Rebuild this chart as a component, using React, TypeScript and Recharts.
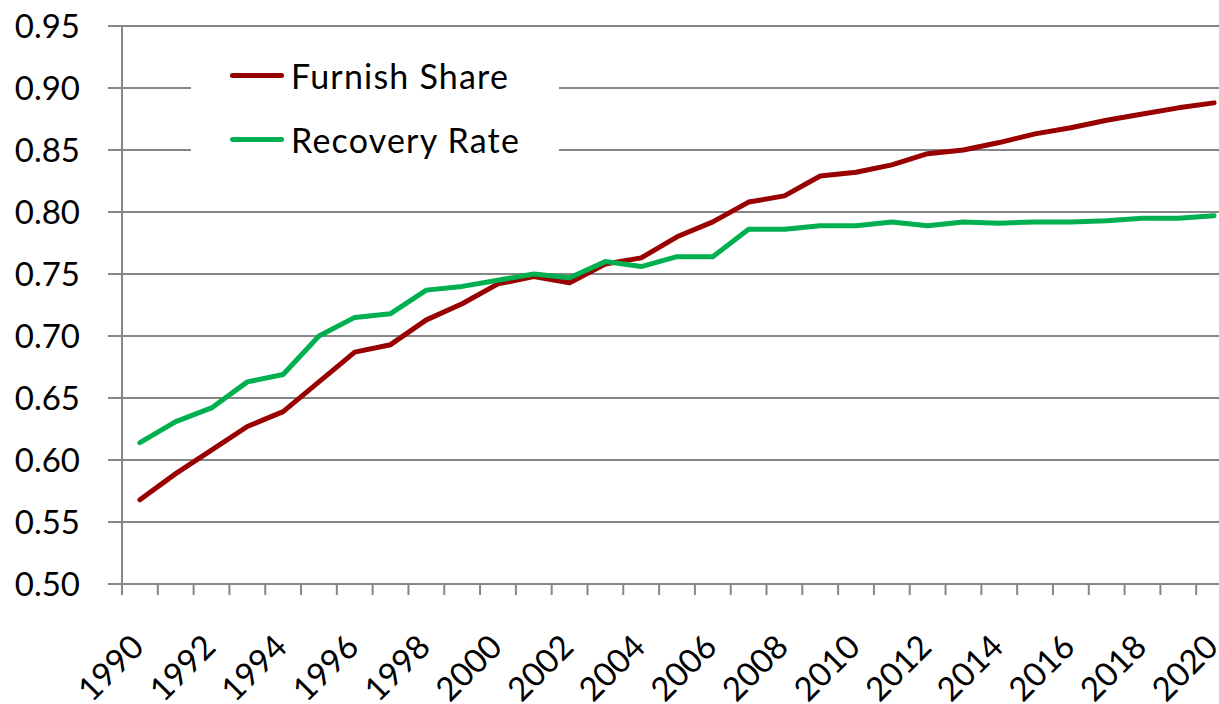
import { CartesianGrid, Legend, Line, LineChart, XAxis, YAxis } from 'recharts'

const years = [
  '1990', '1991', '1992', '1993', '1994', '1995', '1996', '1997', '1998', '1999',
  '2000', '2001', '2002', '2003', '2004', '2005', '2006', '2007', '2008', '2009',
  '2010', '2011', '2012', '2013', '2014', '2015', '2016', '2017', '2018', '2019', '2020',
]

const furnishShare = [
  0.568, 0.589, 0.608, 0.627, 0.639, 0.663, 0.687, 0.693, 0.713, 0.726,
  0.742, 0.748, 0.743, 0.758, 0.763, 0.78, 0.792, 0.808, 0.813, 0.829,
  0.832, 0.838, 0.847, 0.85, 0.856, 0.863, 0.868, 0.874, 0.879, 0.884, 0.888,
]

const recoveryRate = [
  0.614, 0.631, 0.642, 0.663, 0.669, 0.7, 0.715, 0.718, 0.737, 0.74,
  0.745, 0.75, 0.747, 0.76, 0.756, 0.764, 0.764, 0.786, 0.786, 0.789,
  0.789, 0.792, 0.789, 0.792, 0.791, 0.792, 0.792, 0.793, 0.795, 0.795, 0.797,
]

const yTicks = [0.5, 0.55, 0.6, 0.65, 0.7, 0.75, 0.8, 0.85, 0.9, 0.95]

const data = years.map((year, i) => ({
  year,
  furnish: furnishShare[i],
  recovery: recoveryRate[i],
}))

const FONT = 'Lato, "Liberation Sans", sans-serif'
const GRID = '#868686'
const RED = '#990000'
const GREEN = '#00B050'

// plot area runs past the right edge of the picture, like the original crop
const CHART_W = 1240
const PLOT_LEFT = 122
const PLOT_RIGHT = 1232
const BAND = (PLOT_RIGHT - PLOT_LEFT) / years.length

function YearTick(props: any) {
  const { x, y, payload, index } = props
  const half = BAND / 2
  const tx = x + 6
  const ty = y + 65
  return (
    <g>
      <line x1={x - half} y1={y} x2={x - half} y2={y + 11} stroke={GRID} strokeWidth={2} />
      {index === years.length - 1 && (
        <line x1={x + half} y1={y} x2={x + half} y2={y + 11} stroke={GRID} strokeWidth={2} />
      )}
      {index % 2 === 0 && (
        <text
          x={tx}
          y={ty}
          textAnchor="end"
          fontSize={33}
          fontFamily={FONT}
          fill="#000"
          transform={`rotate(-45 ${tx} ${ty})`}
        >
          {payload.value}
        </text>
      )}
    </g>
  )
}

function LegendBox() {
  const rows = [
    { name: 'Furnish Share', color: RED, top: 5 },
    { name: 'Recovery Rate', color: GREEN, top: 69 },
  ]
  return (
    <div style={{ position: 'relative', width: 368, height: 110, background: '#fff' }}>
      {rows.map((r) => (
        <div
          key={r.name}
          style={{
            position: 'absolute',
            left: 39,
            top: r.top,
            height: 40,
            display: 'flex',
            alignItems: 'center',
            whiteSpace: 'nowrap',
          }}
        >
          <div style={{ width: 54, height: 5, borderRadius: 3, background: r.color }} />
          <span style={{ marginLeft: 7, fontSize: 34, letterSpacing: 1.2, fontFamily: FONT, color: '#000' }}>
            {r.name}
          </span>
        </div>
      ))}
    </div>
  )
}

export default function App() {
  return (
    <div style={{ position: 'absolute', left: 0, top: 0, width: 1219, height: 704, overflow: 'hidden', background: '#fff' }}>
      <LineChart
        width={CHART_W}
        height={704}
        data={data}
        margin={{ top: 26, right: CHART_W - PLOT_RIGHT, bottom: 0, left: 0 }}
        style={{ fontFamily: FONT }}
      >
        <CartesianGrid vertical={false} stroke={GRID} strokeWidth={2} />
        <XAxis
          dataKey="year"
          interval={0}
          height={120}
          padding={{ left: BAND / 2, right: BAND / 2 }}
          axisLine={{ stroke: GRID, strokeWidth: 2 }}
          tickLine={false}
          tickSize={0}
          tickMargin={0}
          tick={<YearTick />}
        />
        <YAxis
          domain={[0.5, 0.95]}
          ticks={yTicks}
          width={PLOT_LEFT}
          tickFormatter={(v: number) => v.toFixed(2)}
          axisLine={{ stroke: GRID, strokeWidth: 2 }}
          tickLine={{ stroke: GRID, strokeWidth: 2 }}
          tickSize={14}
          tickMargin={28}
          tick={{ fontSize: 33, fill: '#000', fontFamily: FONT }}
          allowDataOverflow
        />
        <Legend
          layout="vertical"
          align="center"
          verticalAlign="middle"
          content={<LegendBox />}
          wrapperStyle={{ position: 'absolute', left: 191, top: 50, width: 368, height: 110 }}
        />
        <Line
          type="linear"
          dataKey="furnish"
          name="Furnish Share"
          stroke={RED}
          strokeWidth={5}
          strokeLinecap="round"
          strokeLinejoin="round"
          dot={false}
          activeDot={false}
          isAnimationActive={false}
        />
        <Line
          type="linear"
          dataKey="recovery"
          name="Recovery Rate"
          stroke={GREEN}
          strokeWidth={5}
          strokeLinecap="round"
          strokeLinejoin="round"
          dot={false}
          activeDot={false}
          isAnimationActive={false}
        />
      </LineChart>
    </div>
  )
}
